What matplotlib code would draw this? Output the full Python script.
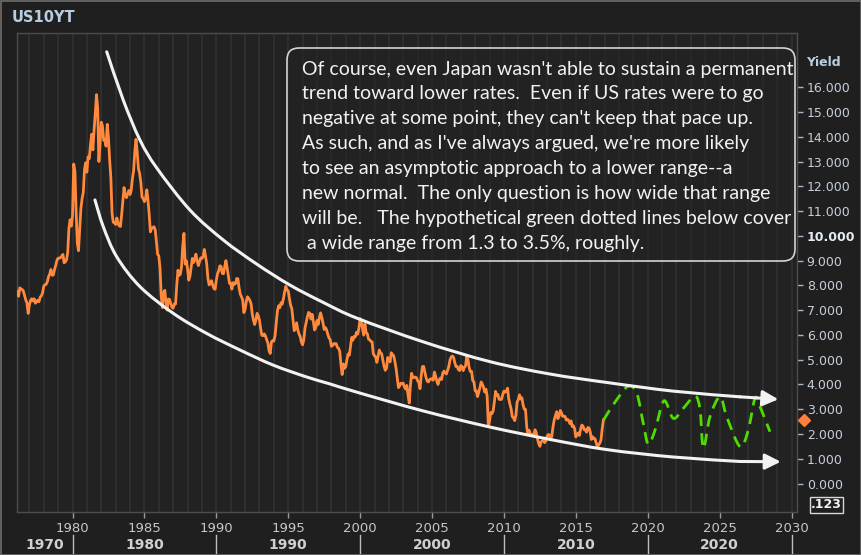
import numpy as np
import matplotlib
matplotlib.use('Agg')
import matplotlib.pyplot as plt
import matplotlib.transforms as mtransforms
from matplotlib.patches import FancyBboxPatch, Rectangle, PathPatch
from matplotlib.path import Path
from matplotlib.lines import Line2D

# ---------------- data ----------------
start_year = 1976
# US 10Y yield, monthly (Jan 1976 .. Dec 2016)
yield_monthly = [
    7.74, 7.79, 7.73, 7.56, 7.90, 7.86, 7.83, 7.77, 7.59, 7.41, 7.29, 6.87,
    7.21, 7.39, 7.46, 7.37, 7.46, 7.28, 7.33, 7.40, 7.34, 7.52, 7.58, 7.69,
    7.96, 8.03, 8.04, 8.15, 8.35, 8.46, 8.64, 8.41, 8.42, 8.64, 8.81, 9.01,
    9.10, 9.10, 9.12, 9.18, 9.25, 8.91, 8.95, 9.03, 9.33, 10.30, 10.65, 10.39,
    10.80, 12.90, 12.60, 11.00, 9.70, 9.40, 10.25, 11.10, 11.51, 11.75, 12.68, 12.95,
    12.57, 13.19, 13.12, 13.68, 14.10, 13.47, 14.28, 14.94, 15.70, 15.15, 13.00, 13.72,
    14.59, 14.43, 13.86, 13.87, 13.62, 14.50, 13.95, 13.06, 12.34, 10.91, 10.55, 10.54,
    10.46, 10.72, 10.51, 10.40, 10.38, 10.85, 11.38, 11.95, 11.65, 11.54, 11.69, 11.83,
    11.67, 11.84, 12.32, 12.63, 13.41, 13.90, 13.36, 12.72, 12.52, 12.16, 11.57, 11.50,
    11.38, 11.51, 11.86, 11.43, 10.85, 10.16, 10.31, 10.33, 10.37, 10.24, 9.78, 9.26,
    9.19, 8.70, 7.60, 7.10, 7.71, 7.80, 7.30, 7.00, 7.45, 7.43, 7.25, 7.11,
    7.08, 7.25, 7.25, 8.02, 8.61, 8.40, 8.45, 8.76, 9.60, 10.10, 8.86, 8.99,
    8.67, 8.21, 8.37, 8.72, 9.09, 8.92, 9.06, 9.26, 8.98, 8.80, 8.96, 9.11,
    9.09, 9.17, 9.45, 9.18, 8.86, 8.28, 8.02, 8.11, 8.19, 8.01, 7.87, 7.84,
    8.21, 8.47, 8.59, 8.79, 8.76, 8.48, 8.47, 8.75, 9.00, 8.72, 8.39, 8.08,
    8.09, 7.85, 8.11, 8.04, 8.07, 8.28, 8.27, 7.90, 7.65, 7.53, 7.42, 6.90,
    7.03, 7.34, 7.54, 7.48, 7.39, 7.26, 6.84, 6.59, 6.42, 6.59, 6.87, 6.77,
    6.60, 6.26, 5.98, 5.97, 6.04, 5.96, 5.81, 5.68, 5.36, 5.25, 5.72, 5.77,
    5.75, 5.97, 6.48, 6.97, 7.18, 7.10, 7.30, 7.24, 7.46, 7.74, 7.96, 7.81,
    7.78, 7.47, 7.20, 7.06, 6.63, 6.17, 6.28, 6.49, 6.20, 6.04, 5.93, 5.71,
    5.60, 5.81, 6.27, 6.51, 6.74, 6.91, 6.87, 6.64, 6.83, 6.53, 6.20, 6.30,
    6.58, 6.42, 6.69, 6.89, 6.71, 6.49, 6.22, 6.30, 6.21, 6.03, 5.88, 5.81,
    5.54, 5.57, 5.65, 5.64, 5.65, 5.50, 5.46, 5.34, 4.81, 4.40, 4.83, 4.65,
    4.72, 5.00, 5.23, 5.18, 5.54, 5.90, 5.79, 5.94, 5.92, 6.11, 6.03, 6.28,
    6.66, 6.52, 6.26, 5.99, 6.44, 6.10, 6.05, 5.83, 5.80, 5.74, 5.72, 5.24,
    5.16, 5.10, 4.89, 5.14, 5.39, 5.28, 5.24, 4.97, 4.73, 4.57, 4.65, 5.09,
    5.04, 4.91, 5.28, 5.21, 5.16, 4.93, 4.65, 4.26, 3.87, 3.94, 4.05, 4.03,
    4.05, 3.90, 3.81, 3.96, 3.57, 3.25, 3.98, 4.45, 4.27, 4.29, 4.30, 4.27,
    4.15, 4.08, 3.83, 4.35, 4.72, 4.73, 4.50, 4.28, 4.13, 4.10, 4.19, 4.23,
    4.22, 4.17, 4.50, 4.34, 4.14, 4.00, 4.18, 4.26, 4.20, 4.46, 4.54, 4.47,
    4.42, 4.57, 4.72, 4.99, 5.11, 5.15, 5.09, 4.88, 4.72, 4.73, 4.60, 4.56,
    4.76, 4.72, 4.56, 4.69, 4.75, 5.15, 5.00, 4.67, 4.52, 4.53, 4.15, 4.10,
    3.74, 3.74, 3.51, 3.68, 3.88, 4.10, 4.01, 3.89, 3.69, 3.81, 3.53, 2.30,
    2.52, 2.87, 2.82, 2.93, 3.29, 3.72, 3.56, 3.59, 3.40, 3.39, 3.40, 3.59,
    3.73, 3.69, 3.73, 3.85, 3.42, 3.20, 3.01, 2.70, 2.65, 2.54, 2.76, 3.29,
    3.39, 3.58, 3.41, 3.46, 3.17, 3.00, 3.00, 2.30, 1.98, 2.15, 2.01, 1.98,
    1.97, 1.97, 2.17, 2.05, 1.80, 1.62, 1.50, 1.68, 1.72, 1.75, 1.65, 1.72,
    1.91, 1.98, 1.96, 1.76, 1.93, 2.30, 2.58, 2.74, 2.90, 2.62, 2.72, 2.95,
    2.86, 2.71, 2.72, 2.71, 2.56, 2.60, 2.54, 2.42, 2.53, 2.30, 2.33, 2.21,
    1.88, 1.98, 2.04, 1.94, 2.20, 2.36, 2.32, 2.17, 2.17, 2.07, 2.26, 2.24,
    2.09, 1.78, 1.89, 1.81, 1.81, 1.64, 1.45, 1.56, 1.63, 1.76, 2.20, 2.56,
]

# hypothetical green dotted path (hand-drawn in the reference)
green_x = [2016.92, 2017.8, 2018.65, 2019.24, 2019.69, 2020.04, 2020.51, 2021.13,
           2021.78, 2022.48, 2023.29, 2023.64, 2023.87, 2024.33, 2025.03, 2025.49,
           2026.42, 2026.99, 2027.46, 2027.81, 2028.50]
green_y = [2.56, 3.35, 3.93, 3.64, 2.43, 1.59, 2.16, 3.34,
           2.63, 3.04, 3.53, 2.97, 1.42, 2.70, 3.50, 2.70,
           1.49, 2.16, 3.44, 3.10, 2.09]

# hand-drawn channel lines (upper / lower)
upper_x = [1982.38, 1983.53, 1984.69, 1985.86, 1988.17, 1990.49, 1992.81, 1995.13,
           1997.44, 1999.76, 2004.39, 2009.03, 2013.21, 2017.15, 2021.78, 2026.42, 2029.08]
upper_y = [17.43, 15.48, 13.87, 12.74, 11.04, 9.83, 8.86, 8.01,
           7.31, 6.68, 5.72, 4.92, 4.42, 4.08, 3.73, 3.50, 3.40]
lower_x = [1981.56, 1982.14, 1983.07, 1984.69, 1987.01, 1989.33, 1991.65, 1993.96,
           1996.29, 1997.91, 1999.76, 2004.39, 2009.03, 2013.21, 2017.15, 2021.78,
           2026.42, 2029.25]
lower_y = [11.45, 10.37, 9.16, 7.95, 6.87, 6.06, 5.39, 4.78,
           4.30, 4.02, 3.69, 2.93, 2.28, 1.78, 1.37, 1.07,
           0.89, 0.88]

year_ticks = [1980, 1985, 1990, 1995, 2000, 2005, 2010, 2015, 2020, 2025, 2030]
year_labels = [str(y) for y in year_ticks]
decade_labels = ['1970', '1980', '1990', '2000', '2010', '2020']
decade_centers = [1978.07, 1985, 1995, 2005, 2015, 2025]
decade_breaks = [1980, 1990, 2000, 2010, 2020, 2030]
yield_ticks = list(range(0, 17))
last_value = 2.56

note_lines = [
    "Of course, even Japan wasn't able to sustain a permanent",
    "trend toward lower rates.  Even if US rates were to go",
    "negative at some point, they can't keep that pace up.",
    "As such, and as I've always argued, we're more likely",
    "to see an asymptotic approach to a lower range--a",
    "new normal.  The only question is how wide that range",
    "will be.   The hypothetical green dotted lines below cover",
    " a wide range from 1.3 to 3.5%, roughly.",
]


def smooth_path(xs, ys):
    """Bezier path passing through the hand-drawn points (Catmull-Rom style)."""
    p = np.column_stack([xs, ys]).astype(float)
    n = len(p)
    verts = [p[0]]
    codes = [Path.MOVETO]
    for i in range(n - 1):
        p0 = p[i - 1] if i > 0 else p[i]
        p1, p2 = p[i], p[i + 1]
        p3 = p[i + 2] if i + 2 < n else p[i + 1]
        c1 = p1 + (p2 - p0) / 6.0
        c2 = p2 - (p3 - p1) / 6.0
        verts += [c1, c2, p2]
        codes += [Path.CURVE4] * 3
    return Path(verts, codes)


# ---------------- figure ----------------
W, H = 861, 555
fig = plt.figure(figsize=(W / 100, H / 100), dpi=100, facecolor='#1f1f1f')
ax = fig.add_axes([17 / W, 1 - 512 / H, (797 - 17) / W, (512 - 33) / H])
ax.set_facecolor('#222222')
ax.set_xlim(1976.14, 2030.38)
ax.set_ylim(-1.15, 18.19)

# yearly vertical stripes
for yr in range(1977, 2031):
    ax.axvline(yr, color='#2e2e2e', lw=1.5, zorder=0)

for s in ax.spines.values():
    s.set_color('#4d4d4d')
    s.set_linewidth(1.0)

# orange series
months = start_year + np.arange(len(yield_monthly)) / 12.0
ax.plot(months, yield_monthly, color='#ff8a3d', lw=2.0, zorder=3)

# green hypothetical
ax.add_patch(PathPatch(smooth_path(green_x, green_y), fill=False, edgecolor='#4fdc00',
                       lw=2.0, ls=(0, (4.2, 2.6)), zorder=4))

# white channel curves with arrows
wc = '#f2f2f2'
for xs, ys in ((upper_x, upper_y), (lower_x, lower_y)):
    ax.add_patch(PathPatch(smooth_path(xs[:-1], ys[:-1]), fill=False, edgecolor=wc,
                           lw=2.2, zorder=5, capstyle='round'))
    ax.annotate('', xy=(xs[-1], ys[-1]), xytext=(xs[-2], ys[-2]),
                arrowprops=dict(arrowstyle='-|>,head_length=0.9,head_width=0.45',
                                color=wc, lw=2.2, mutation_scale=10.5,
                                shrinkA=0, shrinkB=0), zorder=5)

# y axis (right)
ax.yaxis.tick_right()
ax.set_yticks(yield_ticks)
ax.set_yticklabels([f'{v:.3f}' for v in yield_ticks])
ax.tick_params(axis='y', colors='#aab4c0', length=4, width=1, pad=3, labelsize=9,
               labelcolor='#c6cfdb')
for t in ax.get_yticklabels():
    if t.get_text() == '10.000':
        t.set_fontweight('bold')
        t.set_color('#e6ecf4')

# x axis
ax.set_xticks(year_ticks)
ax.set_xticklabels(year_labels, family=['Liberation Sans Narrow', 'DejaVu Sans'])
ax.tick_params(axis='x', colors='#9a9a9a', length=4, width=1, pad=3, labelsize=9.5,
               labelcolor='#c8c8c8')

# decade row
btr = mtransforms.blended_transform_factory(ax.transData, fig.transFigure)
for c, lab in zip(decade_centers, decade_labels):
    ax.text(c, 1 - 545 / H, lab, transform=btr, ha='center', va='center',
            fontsize=10, fontweight='bold', color='#d0d0d0',
            family=['Liberation Sans Narrow', 'DejaVu Sans'], clip_on=False)
for d in decade_breaks:
    ax.add_line(Line2D([d, d], [1 - 535 / H, 1 - 553 / H], transform=btr,
                       color='#bdbdbd', lw=1, clip_on=False))

# last value diamond on the axis
ax.plot([1.009], [last_value], marker='D', ms=6, color='#ff7f3f',
        transform=ax.get_yaxis_transform(), clip_on=False, zorder=6)

# title and labels
fig.text(12 / W, 1 - 18 / H, 'US10YT', fontsize=10.5, fontweight='bold',
         color='#b9cde0', va='center', ha='left')
fig.text(806 / W, 1 - 63 / H, 'Yield', fontsize=9, fontweight='bold',
         color='#b9cde0', va='center', ha='left')
fig.text(811 / W, 1 - 505 / H, '.123', fontsize=9, fontweight='bold',
         color='#f0f0f0', va='center', ha='left',
         bbox=dict(facecolor='none', edgecolor='#d8d8d8', pad=1.0, lw=1))

# annotation box
ident = mtransforms.IdentityTransform()
box = FancyBboxPatch((287, H - 261), 795 - 287, 261 - 48,
                     boxstyle='round,pad=0,rounding_size=12',
                     transform=ident, facecolor='#222222', alpha=0.55,
                     edgecolor='none', zorder=7)
fig.patches.append(box)
box2 = FancyBboxPatch((287, H - 261), 795 - 287, 261 - 48,
                      boxstyle='round,pad=0,rounding_size=12',
                      transform=ident, facecolor='none',
                      edgecolor='#d4d4d4', lw=1.2, zorder=8)
fig.patches.append(box2)
for i, line in enumerate(note_lines):
    fig.text(302 / W, 1 - (69 + i * 24.9) / H, line, fontsize=14.0,
             family=['Lato', 'DejaVu Sans'], color='#f2f2f2',
             va='center', ha='left', zorder=9)

# outer frame
fig.patches.append(Rectangle((0.5, 0.5), W - 1, H - 1, transform=ident,
                             fill=False, edgecolor='#6e6e6e', lw=1.2))

fig.savefig('out.png', dpi=100, facecolor=fig.get_facecolor())
